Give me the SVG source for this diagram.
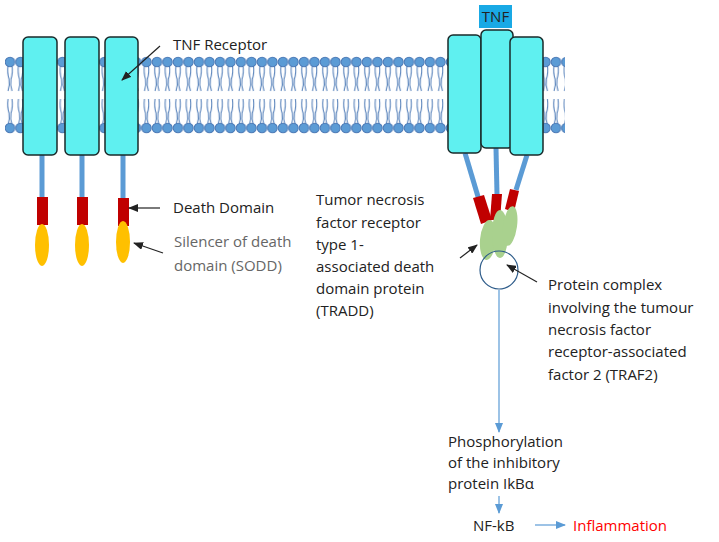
<svg xmlns="http://www.w3.org/2000/svg" width="719" height="542" viewBox="0 0 719 542">
<style>
.rec{fill:#5ff0f0;stroke:#1a2a2a;stroke-width:1.5}
.tail{stroke:#5b9bd5;stroke-width:5}
.dd{fill:#c00000}
.so{fill:#ffc000}
.gr{fill:#a9d18e}
.t{font-family:"Open Sans","Liberation Sans",sans-serif;font-size:15px;fill:#222}
.g{fill:#666}
.r{fill:#ff0000}
.ar{stroke:#222;stroke-width:1.2;fill:none}
.bl{stroke:#5b9bd5;stroke-width:1.2;fill:none}
</style>
<defs>
<marker id="mk" markerWidth="10" markerHeight="8" refX="9" refY="4" orient="auto" markerUnits="userSpaceOnUse"><path d="M0,0L10,4L0,8z" fill="#222"/></marker>
<marker id="mb" markerWidth="10" markerHeight="8" refX="9" refY="4" orient="auto" markerUnits="userSpaceOnUse"><path d="M0,0L10,4L0,8z" fill="#5b9bd5"/></marker>
<pattern id="lip" x="5" y="0" width="10.5" height="140" patternUnits="userSpaceOnUse">
<g stroke="#4a78b5" stroke-width="1" fill="none">
<path d="M3,65 q-1,8 1,14 q1,6 -1,12"/><path d="M7,65 q1,8 -1,14 q-1,6 1,12"/>
<path d="M3,99 q-1,8 1,14 q1,6 -1,12"/><path d="M7,99 q1,8 -1,14 q-1,6 1,12"/>
</g>
<circle cx="5" cy="62" r="4.8" fill="#5b9bd5" stroke="#4a78b5"/>
<circle cx="5" cy="128" r="4.8" fill="#5b9bd5" stroke="#4a78b5"/>
</pattern>
</defs>
<rect x="5" y="55" width="560" height="80" fill="url(#lip)"/>
<g id="receptor1"><line class="tail" x1="42" y1="155" x2="42" y2="198"/><rect class="dd" x="37" y="197" width="11" height="28"/><ellipse class="so" cx="42" cy="245" rx="7" ry="21"/><rect class="rec" x="23" y="37" width="34" height="118" rx="5"/></g>
<g id="receptor2"><line class="tail" x1="82" y1="155" x2="82" y2="198"/><rect class="dd" x="77" y="197" width="11" height="28"/><ellipse class="so" cx="82" cy="245" rx="7" ry="21"/><rect class="rec" x="65" y="37" width="34" height="118" rx="5"/></g>
<g id="receptor3"><line class="tail" x1="123" y1="155" x2="123" y2="198"/><rect class="dd" x="118" y="198" width="11" height="28"/><ellipse class="so" cx="123" cy="242" rx="7" ry="21"/><rect class="rec" x="105" y="37" width="33" height="118" rx="5"/></g>
<g id="tnf-receptor-complex">
<line class="tail" x1="465" y1="153" x2="479" y2="200"/>
<line class="tail" x1="496" y1="148" x2="497" y2="195"/>
<line class="tail" x1="527" y1="155" x2="516" y2="190"/>
<path class="dd" d="M473,198 L484,195 L492,220 L481,224z"/>
<path class="dd" d="M492,194 L502,194 L500,220 L490,220z"/>
<path class="dd" d="M510,189 L519,191 L514,212 L505,209z"/>
<ellipse class="gr" cx="488" cy="240" rx="8" ry="20" transform="rotate(5 488 240)"/>
<ellipse class="gr" cx="500" cy="234" rx="8" ry="24"/>
<ellipse class="gr" cx="510" cy="226" rx="7" ry="20" transform="rotate(8 510 226)"/>
<rect class="rec" x="448" y="35" width="33" height="118" rx="5"/>
<rect class="rec" x="481" y="30" width="32" height="118" rx="5"/>
<rect class="rec" x="510" y="37" width="33" height="118" rx="5"/>
<rect x="479" y="5" width="33" height="23" fill="#19a9e5"/>
<text class="t" x="495.5" y="22" text-anchor="middle">TNF</text>
<circle cx="499" cy="270" r="19" fill="none" stroke="#2e5c8a" stroke-width="1.2"/>
</g>
<g id="connectors">
<line class="ar" x1="160" y1="46" x2="122" y2="80" marker-end="url(#mk)"/>
<line class="ar" x1="160" y1="208" x2="129" y2="208" marker-end="url(#mk)"/>
<line class="ar" x1="163" y1="253" x2="134" y2="243" marker-end="url(#mk)"/>
<line class="ar" x1="460" y1="258" x2="477" y2="245" marker-end="url(#mk)"/>
<line class="ar" x1="537" y1="282" x2="507" y2="265" marker-end="url(#mk)"/>
<line class="bl" x1="499" y1="290" x2="499" y2="432" marker-end="url(#mb)"/>
<line class="bl" x1="499" y1="496" x2="499" y2="513" marker-end="url(#mb)"/>
<line class="bl" x1="535" y1="525" x2="565" y2="525" marker-end="url(#mb)"/>
</g>
<g id="labels">
<text class="t" x="173" y="50">TNF Receptor</text>
<text class="t" x="173" y="213">Death Domain</text>
<text class="t g" x="174" y="247">Silencer of death</text>
<text class="t g" x="174" y="271">domain (SODD)</text>
<text class="t" x="316" y="205">Tumor necrosis</text>
<text class="t" x="316" y="228">factor receptor</text>
<text class="t" x="316" y="250">type 1-</text>
<text class="t" x="316" y="272">associated death</text>
<text class="t" x="316" y="294">domain protein</text>
<text class="t" x="316" y="316">(TRADD)</text>
<text class="t" x="548" y="290">Protein complex</text>
<text class="t" x="548" y="313">involving the tumour</text>
<text class="t" x="548" y="335">necrosis factor</text>
<text class="t" x="548" y="357">receptor-associated</text>
<text class="t" x="548" y="380">factor 2 (TRAF2)</text>
<text class="t" x="448" y="447">Phosphorylation</text>
<text class="t" x="448" y="468">of the inhibitory</text>
<text class="t" x="448" y="489">protein IkBα</text>
<text class="t" x="473" y="531">NF-kB</text>
<text class="t r" x="573" y="531">Inflammation</text>
</g>
</svg>
